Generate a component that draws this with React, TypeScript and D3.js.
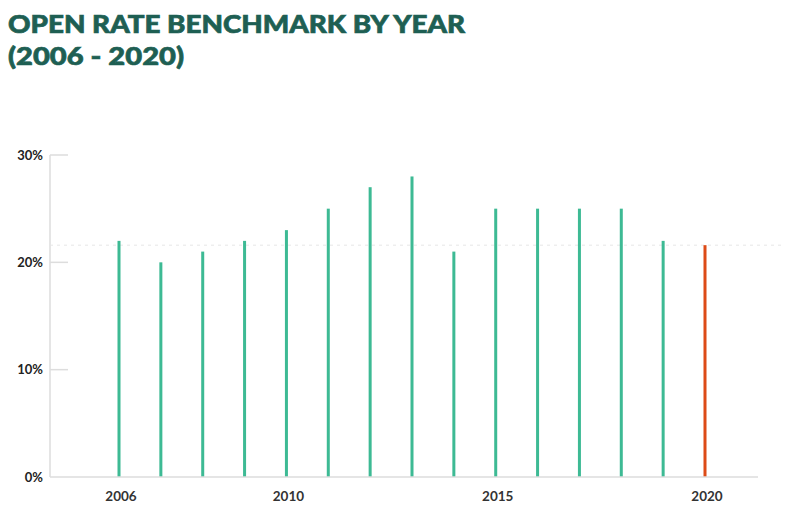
import { useMemo } from 'react';
import * as d3 from 'd3';

const years = [2006, 2007, 2008, 2009, 2010, 2011, 2012, 2013, 2014, 2015, 2016, 2017, 2018, 2019, 2020];
const openRates = [22, 20, 21, 22, 23, 25, 27, 28, 21, 25, 25, 25, 25, 22, 21.6];
const yTicks = [0, 10, 20, 30];
const xTickYears = [2006, 2010, 2015, 2020];
const benchmark = 21.6;
const highlightYear = 2020;

const W = 785;
const H = 531;

export default function App() {
  const x = useMemo(() => d3.scaleLinear().domain([2006, 2020]).range([119, 705]), []);
  const y = useMemo(() => d3.scaleLinear().domain([0, 30]).range([477, 155]), []);
  const axisLeft = 50;
  const axisRight = 758;

  return (
    <svg width={W} height={H} style={{ position: 'absolute', left: 0, top: 0, background: '#fff' }}
      fontFamily="Lato, 'Open Sans', sans-serif">
      <g fill="#1e5f53" stroke="#1e5f53" strokeWidth={0.7} fontFamily="Lato, sans-serif" fontWeight={900} fontSize={25}>
        <text x={8} y={33} textLength={457} lengthAdjust="spacingAndGlyphs">OPEN RATE BENCHMARK BY YEAR</text>
        <text x={8} y={65} textLength={176} lengthAdjust="spacingAndGlyphs">(2006 - 2020)</text>
      </g>

      {/* y axis line + short ticks */}
      <line x1={axisLeft} x2={axisLeft} y1={y(30)} y2={y(0)} stroke="#dddddd" strokeWidth={1.5} />
      {yTicks.map(t => (
        <g key={t}>
          {t > 0 && <line x1={axisLeft} x2={68} y1={y(t)} y2={y(t)} stroke="#dddddd" strokeWidth={1.5} />}
          <text x={43} y={y(t)} dy="0.35em" textAnchor="end" fontSize={13} fontWeight={700} fill="#222">{t}%</text>
        </g>
      ))}

      {/* benchmark dashed line */}
      <line x1={axisLeft} x2={W} y1={y(benchmark)} y2={y(benchmark)} stroke="#e6e6e6" strokeWidth={1} strokeDasharray="3 4" />

      {/* bars */}
      {years.map((yr, i) => (
        <rect key={yr} x={x(yr) - 1.5} width={3} y={y(openRates[i])} height={y(0) - y(openRates[i])}
          fill={yr === highlightYear ? '#dd4b17' : '#3dba94'} />
      ))}

      {/* x axis */}
      <line x1={axisLeft} x2={axisRight} y1={y(0)} y2={y(0)} stroke="#dddddd" strokeWidth={1.5} />
      {xTickYears.map(t => (
        <text key={t} x={x(t) + 2} y={496} dy="0.35em" textAnchor="middle" fontSize={13.5} fontWeight={700} fill="#333">{t}</text>
      ))}
    </svg>
  );
}
